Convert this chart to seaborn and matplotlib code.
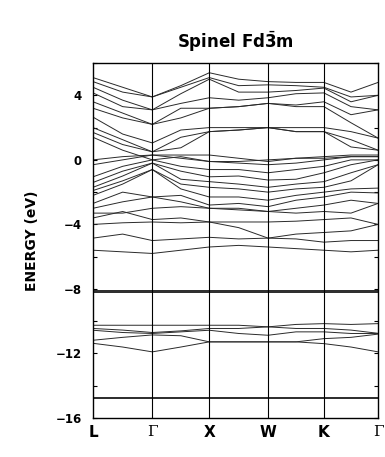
import pandas as pd
import numpy as np
import matplotlib
matplotlib.use("Agg")
import matplotlib.pyplot as plt
from matplotlib.ticker import MultipleLocator
import seaborn as sns

# high symmetry points along the path and their positions
kpoint_labels = ["L", "Γ", "X", "W", "K", "Γ"]
kpoint_pos = [0.0, 1.04, 2.04, 3.07, 4.05, 5.0]

# bands sampled at L, mid, Γ, mid, X, mid, W, mid, K, mid, Γ (eV)
conduction = [
    [5.1, 4.5, 3.9, 4.6, 5.4, 5.0, 4.85, 4.8, 4.8, 4.2, 4.8],
    [4.85, 4.2, 3.9, 4.5, 5.1, 4.6, 4.65, 4.6, 4.5, 3.9, 4.0],
    [4.5, 3.7, 3.1, 4.1, 5.0, 4.2, 4.2, 4.3, 4.45, 3.6, 4.0],
    [4.15, 3.3, 3.1, 3.5, 3.85, 3.7, 3.85, 4.1, 4.15, 3.3, 3.1],
    [3.6, 2.9, 2.2, 3.2, 3.2, 3.3, 3.5, 3.4, 3.6, 2.8, 3.1],
    [3.2, 2.6, 2.2, 2.6, 3.2, 3.3, 3.5, 3.3, 3.3, 2.3, 1.35],
    [2.65, 1.6, 1.05, 1.85, 2.0, 2.0, 2.0, 2.0, 2.0, 1.75, 1.35],
    [2.0, 1.25, 0.5, 1.4, 1.75, 1.85, 2.0, 1.75, 1.75, 1.25, 0.6],
    [1.7, 0.95, 0.5, 0.75, 1.75, 1.85, 2.0, 1.75, 1.75, 0.8, 0.6],
    [1.4, 0.6, 0.0, 0.2, -0.1, -0.1, 0.0, 0.1, 0.1, 0.2, 0.2],
]
valence = [
    [0.0, 0.2, 0.3, 0.3, 0.3, 0.1, -0.1, 0.1, 0.2, 0.3, 0.3],
    [-0.3, 0.0, 0.3, 0.1, -0.1, -0.2, -0.3, -0.2, 0.0, 0.2, 0.2],
    [-1.05, -0.4, 0.0, -0.4, -0.6, -0.6, -0.8, -0.6, -0.4, 0.0, 0.0],
    [-1.4, -0.7, -0.2, -0.7, -1.05, -1.0, -1.25, -1.2, -0.8, -0.3, 0.0],
    [-1.7, -1.0, -0.2, -1.2, -1.35, -1.5, -1.7, -1.5, -1.35, -0.8, -0.3],
    [-1.9, -1.3, -0.6, -1.5, -1.7, -1.8, -2.0, -1.8, -1.7, -1.3, -0.3],
    [-2.2, -1.5, -0.6, -1.8, -2.3, -2.3, -2.5, -2.2, -2.0, -1.8, -1.75],
    [-2.7, -2.0, -2.3, -2.2, -2.8, -2.7, -2.9, -2.5, -2.3, -2.0, -2.05],
    [-3.0, -2.6, -2.3, -2.6, -3.0, -3.0, -3.2, -3.0, -2.8, -2.5, -2.7],
    [-3.3, -3.3, -3.0, -2.9, -3.0, -3.1, -3.2, -3.3, -3.2, -3.3, -2.7],
    [-3.6, -3.2, -3.7, -3.6, -3.85, -3.85, -3.85, -3.8, -3.7, -3.6, -4.0],
    [-4.0, -3.9, -3.85, -3.9, -3.85, -4.2, -4.85, -4.6, -4.5, -4.4, -4.0],
    [-4.85, -4.6, -5.0, -4.9, -4.8, -4.9, -4.85, -4.9, -5.1, -5.0, -5.0],
    [-5.6, -5.7, -5.8, -5.6, -5.4, -5.3, -5.4, -5.5, -5.6, -5.7, -5.6],
]
flat_8 = [
    [-8.05] * 11,
    [-8.15] * 11,
    [-8.2] * 11,
]
group_10 = [
    [-10.25, -10.25, -10.25, -10.25, -10.25, -10.25, -10.35, -10.2, -10.15, -10.2, -10.15],
    [-10.45, -10.55, -10.7, -10.6, -10.45, -10.45, -10.35, -10.45, -10.45, -10.55, -10.75],
    [-10.56, -10.7, -10.76, -10.66, -10.56, -10.76, -10.87, -10.66, -10.66, -10.76, -10.76],
    [-11.18, -11.0, -10.85, -10.9, -11.28, -11.28, -11.28, -11.28, -11.08, -11.0, -10.8],
    [-11.37, -11.6, -11.9, -11.6, -11.28, -11.28, -11.28, -11.28, -11.39, -11.6, -11.9],
]
deep = [
    [-14.7] * 11,
    [-14.75] * 11,
]

# k grid: high symmetry points plus midpoints
kgrid = []
for i in range(len(kpoint_pos) - 1):
    kgrid += [kpoint_pos[i], (kpoint_pos[i] + kpoint_pos[i + 1]) / 2]
kgrid.append(kpoint_pos[-1])

rows = []
for b, band in enumerate(conduction + valence + flat_8 + group_10 + deep):
    for k, e in zip(kgrid, band):
        rows.append({"band": b, "k": k, "E": e})
df = pd.DataFrame(rows)

sns.set_style("white")
plt.rcParams["font.family"] = ["DejaVu Sans"]
plt.rcParams["text.color"] = "black"
plt.rcParams["axes.labelcolor"] = "black"
plt.rcParams["xtick.color"] = "black"
plt.rcParams["ytick.color"] = "black"

fig = plt.figure(figsize=(3.85, 4.57), dpi=100)
ax = fig.add_axes([0.2416, 0.0853, 0.7404, 0.7767])

sns.lineplot(data=df, x="k", y="E", units="band", estimator=None, sort=False,
             color="#2a2a2a", lw=0.7, legend=False, ax=ax)

for x in kpoint_pos[1:-1]:
    ax.axvline(x, color="black", lw=0.8)

ax.set_xlim(kpoint_pos[0], kpoint_pos[-1])
ax.set_ylim(-16, 6)
ax.set_xticks(kpoint_pos)
ax.set_xticklabels(kpoint_labels, fontsize=11, fontweight="bold")
for lab in ax.get_xticklabels():
    if lab.get_text() == "Γ":
        lab.set_family("DejaVu Serif")
        lab.set_fontweight("normal")
ax.set_yticks([4, 0, -4, -8, -12, -16])
ax.set_yticklabels(["4", "0", "\u22124", "\u22128", "\u221212", "\u221216"],
                   fontsize=8.5, fontweight="bold")
ax.yaxis.set_minor_locator(MultipleLocator(2))
ax.tick_params(axis="y", which="both", direction="in", left=True, right=True,
               length=3, width=0.8, pad=8)
ax.tick_params(axis="x", length=0, pad=5)

for s in ax.spines.values():
    s.set_color("black")
    s.set_linewidth(1.0)

ax.set_xlabel("")
ax.set_ylabel("ENERGY (eV)", fontsize=10, fontweight="bold", labelpad=12)
ax.set_title(r"Spinel Fd$\bar{\mathbf{3}}$m", fontsize=12, fontweight="bold", pad=11)

fig.savefig("out.png", dpi=100)
